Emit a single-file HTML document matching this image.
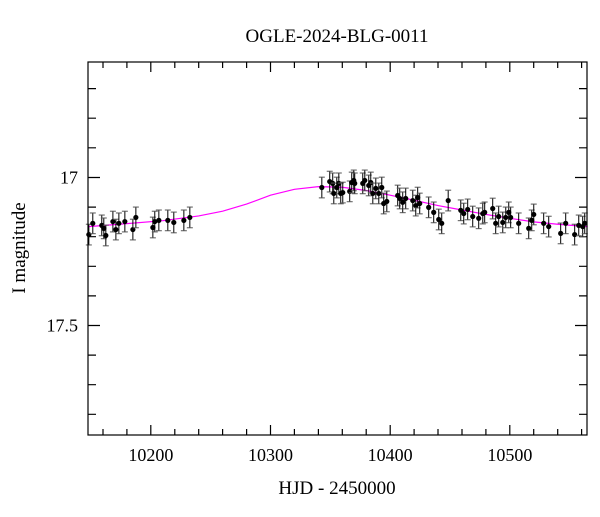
<!DOCTYPE html>
<html><head><meta charset="utf-8"><style>
body{margin:0;background:#fff}
svg text{font-family:"Liberation Serif",serif;fill:#000}
</style></head><body>
<svg id="chart" width="600" height="512" xmlns="http://www.w3.org/2000/svg">
<text x="337" y="42" text-anchor="middle" font-size="19">OGLE-2024-BLG-0011</text>
<text x="337" y="494" text-anchor="middle" font-size="19">HJD - 2450000</text>
<text x="25" y="248" text-anchor="middle" font-size="19" transform="rotate(-90 25 248)">I magnitude</text>
<path id="tickpath" d="" stroke="#000" stroke-width="1.2" fill="none"/>
<g id="ticks"></g>
<g id="model"></g>
<g id="data"></g>
<rect x="88" y="62" width="499" height="373" fill="none" stroke="#000" stroke-width="1.2"/>
</svg>
<script>
const times=[10148.2,10151.5,10159,10160.7,10162.4,10168.3,10170.8,10173.3,10178.3,10185,10187.5,10201.7,10203.3,10206.7,10214.2,10219.2,10227.6,10232.6,
10342.9,10349.5,10352,10352.9,10355.4,10357.1,10358.7,10360.4,10366.2,10367.9,10369.6,10370.4,10377.1,10378.8,10382.1,10383.8,10385.5,10388,10390.5,10393,10394.6,10397.2,10406.3,10408,10410.5,10413,10418.9,10421.4,10423,10424.7,10432.2,10436.4,10440.6,10443.1,10448.5,
10459,10461.5,10464.8,10469,10474,10477.4,10479,10485.7,10488.2,10490.7,10494.1,10496.6,10499.1,10500.7,10507.4,10515.8,10518.3,10520,10528.3,10532.5,10542.5,10546.7,10554.2,10557.6,10560.9,10562.6];
const mags=[17.193,17.155,17.162,17.172,17.196,17.149,17.176,17.155,17.149,17.176,17.135,17.169,17.149,17.145,17.145,17.152,17.145,17.135,
17.034,17.014,17.020,17.054,17.034,17.020,17.054,17.051,17.047,17.017,17.010,17.020,17.020,17.010,17.027,17.017,17.054,17.037,17.054,17.034,17.088,17.081,17.061,17.071,17.084,17.071,17.078,17.095,17.068,17.088,17.101,17.118,17.142,17.155,17.078,
17.111,17.122,17.108,17.132,17.138,17.122,17.118,17.105,17.155,17.132,17.152,17.135,17.118,17.135,17.155,17.172,17.145,17.125,17.155,17.166,17.189,17.155,17.193,17.162,17.166,17.155];
const errs=times.map(()=>0.035);
const modelTimes=[10148,10180,10210,10240,10260,10280,10300,10320,10340,10360,10380,10400,10420,10440,10460,10480,10500,10520,10540,10565];
const modelMags=[17.166,17.156,17.146,17.13,17.114,17.09,17.06,17.04,17.031,17.033,17.044,17.06,17.077,17.095,17.11,17.125,17.138,17.15,17.158,17.166];
const xMajor=[10200,10300,10400,10500];
const yMajor=[17,17.5];
const yLabels=["17","17.5"];

const NS="http://www.w3.org/2000/svg";
const X0=88,X1=587,Y0=62,Y1=435,T0=10147.5,T1=10564.5,M0=16.61,M1=17.87;
const sx=t=>X0+(t-T0)/(T1-T0)*(X1-X0);
const sy=m=>Y0+(m-M0)/(M1-M0)*(Y1-Y0);
function mk(tag,attrs,parent){const e=document.createElementNS(NS,tag);for(const k in attrs)e.setAttribute(k,attrs[k]);parent.appendChild(e);return e;}
const tg=document.getElementById('ticks');
let d="";
for(let t=10160;t<T1;t+=20){
  const maj=t%100===0,L=maj?10:6,x=sx(t).toFixed(1);
  d+="M"+x+" "+Y1+"V"+(Y1-L)+"M"+x+" "+Y0+"V"+(Y0+L);
}
for(let i=167;i<=178;i++){
  const m=i/10,maj=(i%5===0),L=maj?12:8,y=sy(m).toFixed(1);
  d+="M"+X0+" "+y+"H"+(X0+L)+"M"+X1+" "+y+"H"+(X1-L);
}
document.getElementById('tickpath').setAttribute('d',d);
xMajor.forEach(t=>{const e=mk('text',{x:sx(t),y:Y1+26,'text-anchor':'middle','font-size':'18'},tg);e.textContent=String(t);
  
  });
yMajor.forEach((m,i)=>{const e=mk('text',{x:X0-10,y:sy(m)+6,'text-anchor':'end','font-size':'18'},tg);e.textContent=yLabels[i];
  
  });
const mg=document.getElementById('model');
const p=mk('polyline',{points:modelTimes.map((t,i)=>sx(t)+','+sy(modelMags[i])).join(' '),fill:'none',stroke:'#f0f','stroke-width':'1.2'},mg);


const dg=document.getElementById('data');
times.forEach((t,i)=>{
  const x=sx(t),y=sy(mags[i]),ya=sy(mags[i]-errs[i]),yb=sy(mags[i]+errs[i]);
  const g=mk('g',{},dg);
  
  
  mk('line',{x1:x,x2:x,y1:ya,y2:yb,stroke:'#000','stroke-width':'1'},g);
  mk('line',{x1:x-3,x2:x+3,y1:ya,y2:ya,stroke:'#555','stroke-width':'1'},g);
  mk('line',{x1:x-3,x2:x+3,y1:yb,y2:yb,stroke:'#555','stroke-width':'1'},g);
  mk('circle',{cx:x,cy:y,r:2.6,fill:'#000'},g);
});
</script>
</body></html>
